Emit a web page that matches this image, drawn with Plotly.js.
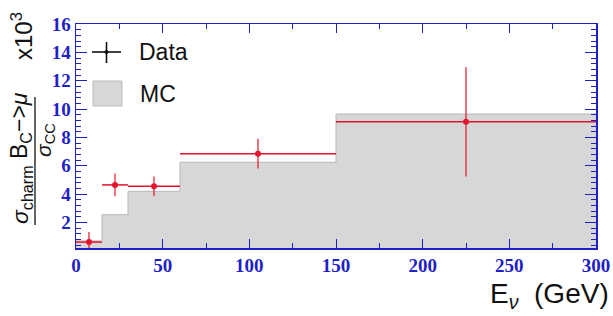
<!DOCTYPE html>
<html><head><meta charset="utf-8">
<script src="https://cdn.plot.ly/plotly-3.0.1.min.js"></script>
<style>html,body{margin:0;padding:0;background:#fff}#c{width:613px;height:316px}</style>
</head><body><div id="c"></div>
<script>
// MC histogram (bin edges and contents)
const mcEdges = [0, 15, 30, 60, 150, 300];
const mcValues = [0.7, 2.55, 4.2, 6.25, 9.65];
// Data points
const dataX = [7.5, 22.5, 45, 105, 225];
const dataXErr = [7.5, 7.5, 15, 45, 75];
const dataY = [0.62, 4.65, 4.55, 6.85, 9.1];
const dataYErr = [0.7, 0.8, 0.7, 1.05, 3.85];
const xTicks = [0, 50, 100, 150, 200, 250, 300];
const yTicks = [2, 4, 6, 8, 10, 12, 14, 16];

const L = 76, T = 24, W = 520, H = 224;
const px = x => (x - L) / W;
const py = y => (T + H - y) / H;

const blue = '#1f1fc8';
const red = '#e4132c';

const mc = {
  x: mcEdges, y: mcValues.concat([mcValues[mcValues.length - 1]]),
  type: 'scatter', mode: 'lines', line: {shape: 'hv', color: '#b8b8b8', width: 1},
  fill: 'tozeroy', fillcolor: '#d7d7d7', hoverinfo: 'skip', showlegend: false
};
const data = {
  x: dataX, y: dataY, type: 'scatter', mode: 'markers',
  marker: {color: red, size: 6},
  error_x: {type: 'data', array: dataXErr, color: red, thickness: 1.5, width: 0},
  error_y: {type: 'data', array: dataYErr, color: red, thickness: 1.2, width: 0},
  showlegend: false
};

const tickfont = {family: 'Liberation Serif', size: 19, color: blue, weight: 'bold'};

const ann = [];
const A = (text, x, y, size, extra) => ann.push(Object.assign({
  text: text, xref: 'paper', yref: 'paper', x: px(x), y: py(y),
  showarrow: false, font: {family: 'Liberation Sans', size: size, color: '#111'}
}, extra || {}));
// legend texts
A('Data', 137, 52, 23, {xanchor: 'left', yanchor: 'middle'});
A('MC', 138, 94, 23, {xanchor: 'left', yanchor: 'middle'});
// x title
A('E<sub><i>ν</i></sub>  (GeV)', 611, 295, 28, {xanchor: 'right', yanchor: 'middle'});
// y title pieces (rotated)
A('<i>σ</i><sub>charm</sub>', 21, 195, 23, {textangle: -90, xanchor: 'center', yanchor: 'middle'});
A('B<sub>C</sub>−><i>μ</i>', 20, 126, 23, {textangle: -90, xanchor: 'center', yanchor: 'middle'});
A('<i>σ</i><sub>CC</sub>', 45, 140, 21, {textangle: -90, xanchor: 'center', yanchor: 'middle'});
A('x10<sup>3</sup>', 22, 36, 24, {textangle: -90, xanchor: 'center', yanchor: 'middle'});

const shapes = [
  // fraction bar
  {type: 'line', xref: 'paper', yref: 'paper', x0: px(35), x1: px(35), y0: py(97), y1: py(225), line: {color: '#111', width: 1.3}},
  // legend: data cross
  {type: 'line', xref: 'paper', yref: 'paper', x0: px(92), x1: px(121), y0: py(52), y1: py(52), line: {color: '#111', width: 1.6}},
  {type: 'line', xref: 'paper', yref: 'paper', x0: px(106.5), x1: px(106.5), y0: py(42), y1: py(63), line: {color: '#111', width: 1.6}},
  {type: 'circle', xref: 'paper', yref: 'paper', x0: px(104.5), x1: px(108.5), y0: py(50), y1: py(54), fillcolor: '#111', line: {width: 0}},
  // legend: MC box
  {type: 'rect', xref: 'paper', yref: 'paper', x0: px(93), x1: px(122), y0: py(81), y1: py(106), fillcolor: '#d7d7d7', line: {color: '#bbbbbb', width: 1}}
];

const layout = {
  width: 613, height: 316,
  margin: {l: L, r: 613 - L - W, t: T, b: 316 - T - H, pad: 0},
  paper_bgcolor: '#fff', plot_bgcolor: '#fff',
  showlegend: false,
  xaxis: {
    range: [0, 300], tickvals: xTicks, ticktext: xTicks.map(String),
    ticks: 'inside', ticklen: 9, tickcolor: blue, tickwidth: 1,
    minor: {dtick: 25, ticks: 'inside', ticklen: 5, tickcolor: blue},
    showline: true, linecolor: blue, linewidth: 1.5, mirror: 'allticks',
    showgrid: false, zeroline: false, tickfont: tickfont
  },
  yaxis: {
    range: [0.2, 16], tickvals: yTicks, ticktext: yTicks.map(String),
    ticks: 'inside', ticklen: 11, tickcolor: blue, tickwidth: 1,
    minor: {dtick: 0.4, tick0: 0, ticks: 'inside', ticklen: 5, tickcolor: blue},
    showline: true, linecolor: blue, linewidth: 1.5, mirror: 'allticks',
    showgrid: false, zeroline: false, tickfont: tickfont
  },
  annotations: ann, shapes: shapes
};

Plotly.newPlot('c', [mc, data], layout, {staticPlot: true, displayModeBar: false});
</script></body></html>
